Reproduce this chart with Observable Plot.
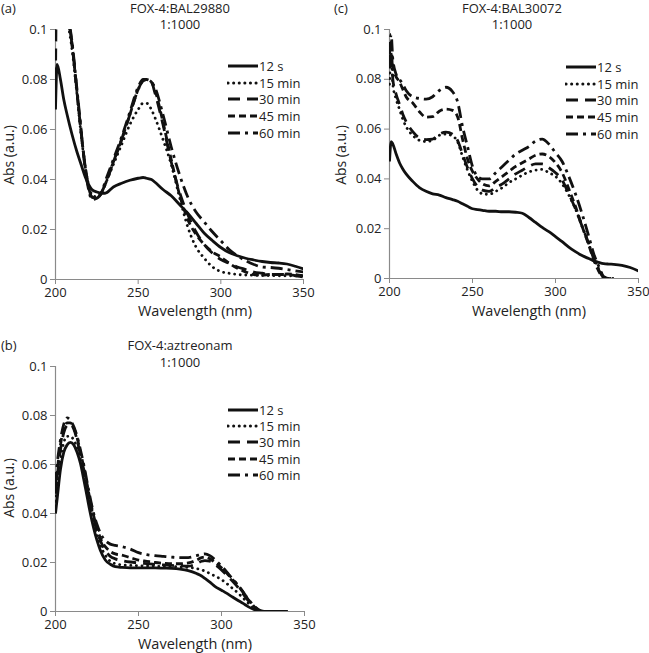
<!DOCTYPE html>
<html><head><meta charset="utf-8">
<script src="https://cdn.jsdelivr.net/npm/d3@7"></script>
<script src="https://cdn.jsdelivr.net/npm/@observablehq/plot@0.6"></script>
<style>
body{margin:0;background:#fff;}
#root{position:relative;width:649px;height:653px;font-family:"Open Sans",sans-serif;color:#222;overflow:hidden;background:#fff}
.t{position:absolute;white-space:nowrap;font-size:13px;line-height:16px}
.c{transform:translate(-50%,-50%);text-align:center}
.rot{transform:translate(-50%,-50%) rotate(-90deg);line-height:1}
svg.plot{position:absolute}
</style></head><body><div id="root"></div>
<script>
const seriesNames = ["12 s","15 min","30 min","45 min","60 min"];
const xTicks = [200,250,300,350];
const yTicks = [0,0.02,0.04,0.06,0.08,0.1];

// Panel (a) FOX-4:BAL29880
const A_wl  = [200,201,203,205,207,210,213,215,218,220,222,225,228,230,235,240,245,250,253,255,258,260,265,270,275,280,285,290,295,300,305,310,315,320,325,330,335,340,345,350];
const A_12s = [0.068,0.086,0.080,0.072,0.066,0.058,0.051,0.047,0.041,0.038,0.036,0.035,0.0345,0.0345,0.037,0.0385,0.0397,0.0405,0.0408,0.0405,0.040,0.039,0.036,0.0335,0.030,0.0265,0.0225,0.0185,0.0155,0.0128,0.0108,0.0095,0.0085,0.0078,0.0072,0.0068,0.0066,0.0062,0.0053,0.0042];
const A_15m = [null,0.13,0.125,0.115,0.105,0.092,0.074,0.061,0.045,0.038,0.034,0.033,0.035,0.038,0.046,0.054,0.062,0.068,0.0705,0.0705,0.068,0.065,0.056,0.046,0.033,0.021,0.013,0.0085,0.005,0.0032,0.0025,0.002,0.0018,0.0017,0.0016,0.0016,0.0015,0.0015,0.0015,0.0015];
const A_30m = [0.08,0.13,0.125,0.115,0.106,0.094,0.075,0.062,0.045,0.037,0.033,0.0325,0.035,0.038,0.047,0.056,0.066,0.076,0.0795,0.080,0.079,0.075,0.062,0.047,0.035,0.026,0.019,0.014,0.0105,0.008,0.0065,0.005,0.004,0.003,0.0025,0.002,0.002,0.002,0.0015,0.001];
const A_45m = [null,0.13,0.125,0.115,0.108,0.094,0.075,0.062,0.045,0.037,0.033,0.0325,0.035,0.038,0.047,0.056,0.066,0.076,0.0795,0.080,0.079,0.076,0.063,0.048,0.034,0.024,0.018,0.014,0.011,0.009,0.0065,0.0045,0.003,0.002,0.0018,0.002,0.002,0.0022,0.002,0.0015];
const A_60m = [null,0.13,0.125,0.115,0.108,0.095,0.076,0.063,0.044,0.036,0.032,0.0325,0.035,0.039,0.048,0.057,0.067,0.077,0.080,0.080,0.079,0.077,0.066,0.053,0.042,0.033,0.027,0.023,0.019,0.0155,0.012,0.0095,0.0075,0.006,0.005,0.0048,0.0045,0.004,0.0035,0.003];

// Panel (c) FOX-4:BAL30072
const C_wl  = [200,201,202,204,206,208,210,214,218,222,226,230,234,238,241,244,247,250,253,256,260,264,268,272,276,280,284,288,292,296,300,304,308,312,316,320,323,326,329,332,335,340,345,350];
const C_12s = [0.047,0.055,0.054,0.050,0.0465,0.044,0.042,0.039,0.0365,0.035,0.034,0.0335,0.0325,0.0317,0.031,0.030,0.029,0.028,0.0277,0.0274,0.027,0.027,0.0268,0.0268,0.0266,0.0262,0.0245,0.0225,0.0205,0.0188,0.0168,0.0148,0.0126,0.0108,0.0092,0.008,0.0071,0.0065,0.006,0.0058,0.0057,0.0053,0.0044,0.003];
const C_15m = [0.078,0.090,0.078,0.072,0.068,0.064,0.061,0.0575,0.0555,0.055,0.0555,0.0575,0.058,0.0572,0.055,0.049,0.0435,0.039,0.0355,0.034,0.0338,0.035,0.0365,0.0385,0.040,0.0415,0.0428,0.0435,0.0438,0.0425,0.041,0.038,0.0335,0.028,0.021,0.014,0.0085,0.004,0.001,0,0,null,null,null];
const C_30m = [0.085,0.095,0.080,0.074,0.070,0.066,0.063,0.059,0.0565,0.0558,0.056,0.058,0.0588,0.058,0.0555,0.050,0.0445,0.040,0.037,0.0355,0.035,0.0365,0.038,0.040,0.042,0.0435,0.045,0.046,0.046,0.0445,0.0425,0.0395,0.034,0.028,0.021,0.014,0.008,0.0035,0.0005,0,0,null,null,null];
const C_45m = [0.095,0.090,0.085,0.081,0.079,0.076,0.073,0.0705,0.067,0.0648,0.065,0.0672,0.068,0.0675,0.065,0.056,0.048,0.043,0.040,0.038,0.0372,0.039,0.041,0.043,0.045,0.0465,0.048,0.0495,0.050,0.049,0.0465,0.0425,0.036,0.029,0.021,0.0135,0.0075,0.003,0,0,0,null,null,null];
const C_60m = [0.090,0.098,0.088,0.082,0.080,0.078,0.0755,0.073,0.0723,0.072,0.073,0.0755,0.0768,0.075,0.071,0.061,0.053,0.045,0.041,0.040,0.040,0.0425,0.045,0.0475,0.050,0.0515,0.053,0.0552,0.056,0.054,0.0505,0.047,0.041,0.034,0.026,0.017,0.010,0.005,0.0008,0,0,null,null,null];

// Panel (b) FOX-4:aztreonam
const B_wl  = [200,201,203,205,207,209,211,213,215,217,219,221,223,225,227,230,233,236,240,245,250,255,260,265,270,275,280,285,288,290,293,296,300,303,306,310,313,316,320,323,326,330,335,340];
const B_12s = [0.040,0.046,0.058,0.065,0.068,0.069,0.068,0.065,0.0605,0.054,0.047,0.040,0.034,0.029,0.025,0.021,0.0193,0.0183,0.018,0.0178,0.0178,0.0178,0.0178,0.0177,0.0176,0.0173,0.0167,0.0155,0.0145,0.0135,0.012,0.0103,0.0087,0.0075,0.0062,0.0045,0.0033,0.002,0.0007,0.0001,0,0,0,0];
const B_15m = [0.045,0.050,0.062,0.069,0.0715,0.0715,0.070,0.067,0.062,0.056,0.049,0.042,0.036,0.031,0.027,0.023,0.0205,0.0195,0.019,0.0188,0.0187,0.0186,0.0185,0.0184,0.0183,0.0182,0.018,0.0175,0.017,0.0165,0.0155,0.0145,0.013,0.0115,0.0098,0.0075,0.0055,0.0035,0.0012,0.0002,0,null,null,null];
const B_30m = [0.048,0.055,0.066,0.073,0.076,0.0765,0.0745,0.070,0.064,0.058,0.051,0.044,0.038,0.033,0.029,0.025,0.0225,0.0215,0.0208,0.0202,0.0198,0.0195,0.0192,0.019,0.0188,0.0186,0.0185,0.0195,0.0205,0.0208,0.0205,0.0192,0.017,0.015,0.0128,0.0098,0.0072,0.0045,0.0015,0.0003,0,null,null,null];
const B_45m = [0.050,0.057,0.068,0.0745,0.077,0.077,0.075,0.071,0.065,0.059,0.052,0.045,0.039,0.034,0.030,0.0265,0.0245,0.0235,0.023,0.022,0.021,0.0205,0.020,0.0197,0.0195,0.0195,0.0198,0.021,0.022,0.0222,0.0215,0.020,0.0178,0.0158,0.0135,0.0105,0.0078,0.005,0.0018,0.0004,0,null,null,null];
const B_60m = [0.052,0.060,0.070,0.0765,0.079,0.078,0.0755,0.0715,0.066,0.060,0.053,0.046,0.040,0.0355,0.032,0.029,0.0275,0.027,0.0265,0.0255,0.024,0.0232,0.0228,0.0225,0.0222,0.022,0.022,0.0228,0.0233,0.0235,0.0228,0.0212,0.0185,0.0163,0.0138,0.0108,0.008,0.0052,0.002,0.0005,0,null,null,null];

const styles = [
  {dash: null, cap: "butt"},
  {dash: "0.1,5.5", cap: "round"},
  {dash: "12,7", cap: "butt"},
  {dash: "7,4", cap: "butt"},
  {dash: "12,5,3,5", cap: "butt"}
];
const AX = "#8a8a8a";
const root = document.getElementById("root");

function panel(wl, vals, o) {
  const marks = [
    Plot.ruleX([200], {stroke: AX, strokeWidth: 1.2}),
    Plot.ruleY([0], {stroke: AX, strokeWidth: 1.2}),
    Plot.axisX({ticks: xTicks, tickSize: 5, tickPadding: 3, label: null, stroke: AX, fill: "#222", fontSize: 13}),
    Plot.axisY({ticks: yTicks, tickSize: 5, tickPadding: 3, label: null, stroke: AX, fill: "#222", fontSize: 13,
      tickFormat: d => String(+d.toFixed(2))})
  ];
  vals.forEach((v, i) => {
    const data = wl.map((w, j) => ({w, a: v[j]}));
    const s = styles[i];
    const opt = {x: "w", y: "a", stroke: "#111", strokeWidth: 2.8, strokeLinecap: s.cap, strokeLinejoin: "round", clip: true, curve: "monotone-x"};
    if (s.dash) opt.strokeDasharray = s.dash;
    marks.push(Plot.line(data, opt));
  });
  const svg = Plot.plot({
    width: o.width, height: o.height,
    marginTop: o.mt, marginRight: o.mr, marginBottom: o.mb, marginLeft: o.ml,
    x: {domain: [200, 350]},
    y: {domain: [0, 0.1]},
    style: {fontFamily: "Open Sans, sans-serif", fontSize: "13px", color: "#222", background: "transparent", overflow: "visible"},
    marks
  });
  svg.classList.add("plot");
  svg.style.left = o.left + "px";
  svg.style.top = o.top + "px";
  root.appendChild(svg);
}

function text(str, x, y, cls, size) {
  const d = document.createElement("div");
  d.className = "t " + cls;
  d.textContent = str;
  d.style.left = x + "px";
  d.style.top = y + "px";
  if (size) d.style.fontSize = size + "px";
  root.appendChild(d);
}

function legend(x, y0, dy) {
  seriesNames.forEach((name, i) => {
    const y = y0 + i * dy;
    const ns = "http://www.w3.org/2000/svg";
    const s = document.createElementNS(ns, "svg");
    s.setAttribute("width", 32); s.setAttribute("height", 8);
    s.style.position = "absolute"; s.style.left = x + "px"; s.style.top = (y - 4) + "px";
    const l = document.createElementNS(ns, "line");
    l.setAttribute("x1", 1); l.setAttribute("x2", 31); l.setAttribute("y1", 4); l.setAttribute("y2", 4);
    l.setAttribute("stroke", "#111"); l.setAttribute("stroke-width", 3);
    l.setAttribute("stroke-linecap", styles[i].cap);
    if (styles[i].dash) l.setAttribute("stroke-dasharray", styles[i].dash);
    s.appendChild(l);
    root.appendChild(s);
    text(name, x + 32, y - 8, "", 13);
  });
}

// (a)
panel(A_wl, [A_12s, A_15m, A_30m, A_45m, A_60m], {left: 0, top: 0, width: 320, height: 320, mt: 29, mr: 17, mb: 41, ml: 55});
// (c)
panel(C_wl, [C_12s, C_15m, C_30m, C_45m, C_60m], {left: 334, top: 0, width: 315, height: 320, mt: 29, mr: 11, mb: 42, ml: 55});
// (b)
panel(B_wl, [B_12s, B_15m, B_30m, B_45m, B_60m], {left: 0, top: 320, width: 320, height: 333, mt: 46, mr: 16, mb: 42, ml: 55});

// titles
text("(a)", 1, 0, "", 13);
text("FOX-4:BAL29880", 180, 8, "c", 13);
text("1:1000", 180, 24, "c", 13);
text("(c)", 334, 0, "", 13);
text("FOX-4:BAL30072", 512, 8, "c", 13);
text("1:1000", 512, 24, "c", 13);
text("(b)", 1, 337, "", 13);
text("FOX-4:aztreonam", 180, 345, "c", 13);
text("1:1000", 180, 362, "c", 13);

// axis labels
text("Abs (a.u.)", 9, 155, "rot", 14);
text("Abs (a.u.)", 341, 155, "rot", 14);
text("Abs (a.u.)", 9, 488, "rot", 14);
text("Wavelength (nm)", 195, 311, "c", 14.5);
text("Wavelength (nm)", 529, 311, "c", 14.5);
text("Wavelength (nm)", 195, 644, "c", 14.5);

// legends
legend(227, 66, 16.7);
legend(565, 67, 16.7);
legend(227, 410, 16.2);
</script></body></html>
